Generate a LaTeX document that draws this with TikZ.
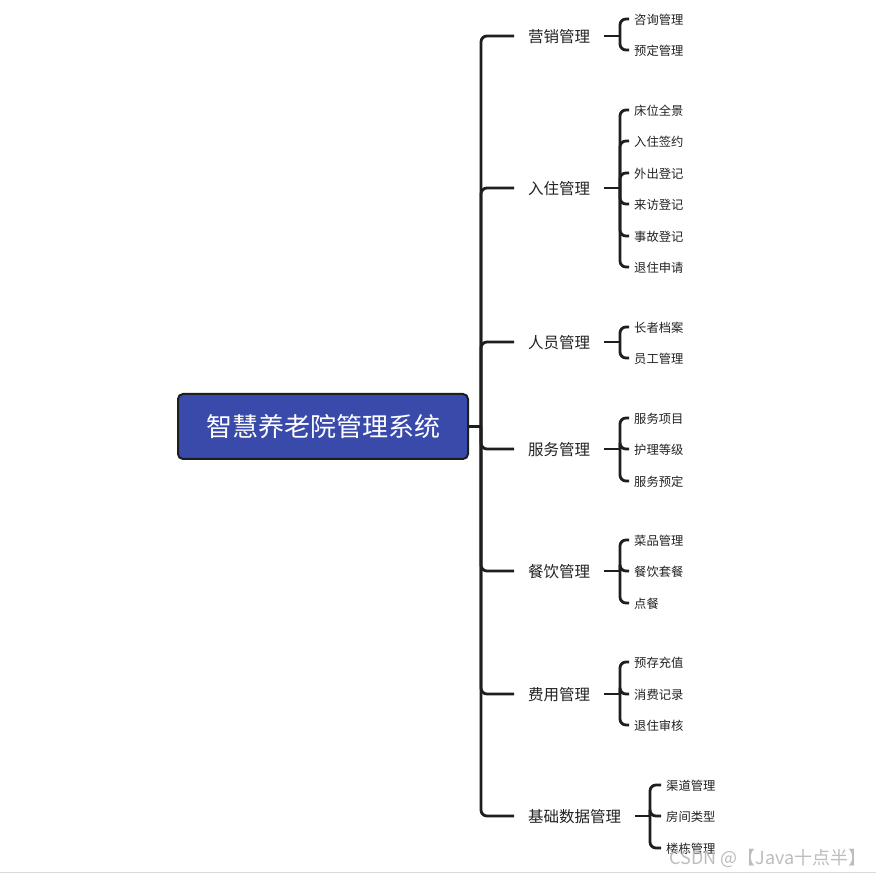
\documentclass[tikz,border=0pt]{standalone}
\usepackage{fontspec}
\setmainfont{Noto Sans CJK SC}
\definecolor{rootblue}{HTML}{3A4AAB}
\definecolor{lineclr}{HTML}{1E1E1E}
\definecolor{txtclr}{HTML}{222222}
\definecolor{wmclr}{HTML}{BDBDBD}
\begin{document}
\begin{tikzpicture}[x=1pt,y=-1pt,
  conn/.style={draw=lineclr,line width=2.8pt,rounded corners=6pt},
  rootbox/.style={draw=lineclr,line width=2pt,fill=rootblue,rounded corners=5pt,minimum width=290pt,minimum height=65pt,inner sep=0pt,text=white,font=\fontsize{26}{30}\selectfont},
  branch/.style={anchor=west,inner sep=0pt,text=txtclr,font=\fontsize{15.5}{18}\selectfont},
  leaf/.style={anchor=west,inner sep=0pt,text=txtclr,font=\fontsize{12.3}{14}\selectfont}]
\useasboundingbox (0,0) rectangle (876,874);
\fill[white] (0,0) rectangle (876,874);
\draw[black!15,line width=1pt] (0,872.5) -- (876,872.5);

\node[rootbox] (root) at (323,426.5) {智慧养老院管理系统};
\coordinate (t0) at (481,426.5);
\draw[conn] (root.east) -- (t0);

% branches
\node[branch] (b1) at (528,37) {营销管理};
\node[branch] (b2) at (528,189) {入住管理};
\node[branch] (b3) at (528,343) {人员管理};
\node[branch] (b4) at (528,450) {服务管理};
\node[branch] (b5) at (528,572) {餐饮管理};
\node[branch] (b6) at (528,695) {费用管理};
\node[branch] (b7) at (528,817) {基础数据管理};

\foreach \b in {b1,b2,b3,b4,b5,b6,b7}{
  \draw[conn] (t0) |- ([xshift=-14pt,yshift=1pt]\b.west);
}

% junction coordinates
\coordinate (j1) at (620,36);
\coordinate (j2) at (620,188);
\coordinate (j3) at (620,342);
\coordinate (j4) at (620,449);
\coordinate (j5) at (620,571);
\coordinate (j6) at (620,694);
\coordinate (j7) at (650,816);

\draw[conn] ([xshift=14pt,yshift=1pt]b1.east) -- (j1);
\draw[conn] ([xshift=14pt,yshift=1pt]b2.east) -- (j2);
\draw[conn] ([xshift=14pt,yshift=1pt]b3.east) -- (j3);
\draw[conn] ([xshift=14pt,yshift=1pt]b4.east) -- (j4);
\draw[conn] ([xshift=14pt,yshift=1pt]b5.east) -- (j5);
\draw[conn] ([xshift=14pt,yshift=1pt]b6.east) -- (j6);
\draw[conn] ([xshift=14pt,yshift=1pt]b7.east) -- (j7);

% leaves
\node[leaf] (l11) at (634,20) {咨询管理};
\node[leaf] (l12) at (634,51) {预定管理};

\node[leaf] (l21) at (634,111) {床位全景};
\node[leaf] (l22) at (634,142) {入住签约};
\node[leaf] (l23) at (634,174) {外出登记};
\node[leaf] (l24) at (634,205) {来访登记};
\node[leaf] (l25) at (634,237) {事故登记};
\node[leaf] (l26) at (634,268) {退住申请};

\node[leaf] (l31) at (634,328) {长者档案};
\node[leaf] (l32) at (634,359) {员工管理};

\node[leaf] (l41) at (634,419) {服务项目};
\node[leaf] (l42) at (634,450) {护理等级};
\node[leaf] (l43) at (634,482) {服务预定};

\node[leaf] (l51) at (634,541) {菜品管理};
\node[leaf] (l52) at (634,572) {餐饮套餐};
\node[leaf] (l53) at (634,604) {点餐};

\node[leaf] (l61) at (634,663) {预存充值};
\node[leaf] (l62) at (634,695) {消费记录};
\node[leaf] (l63) at (634,726) {退住审核};

\node[leaf] (l71) at (666,786) {渠道管理};
\node[leaf] (l72) at (666,817) {房间类型};
\node[leaf] (l73) at (666,849) {楼栋管理};

\foreach \l in {l11,l12}{\draw[conn] (j1) |- ([xshift=-5pt,yshift=1pt]\l.west);}
\foreach \l in {l21,l22,l23,l24,l25,l26}{\draw[conn] (j2) |- ([xshift=-5pt,yshift=1pt]\l.west);}
\foreach \l in {l31,l32}{\draw[conn] (j3) |- ([xshift=-5pt,yshift=1pt]\l.west);}
\foreach \l in {l41,l42,l43}{\draw[conn] (j4) |- ([xshift=-5pt,yshift=1pt]\l.west);}
\foreach \l in {l51,l52,l53}{\draw[conn] (j5) |- ([xshift=-5pt,yshift=1pt]\l.west);}
\foreach \l in {l61,l62,l63}{\draw[conn] (j6) |- ([xshift=-5pt,yshift=1pt]\l.west);}
\foreach \l in {l71,l72,l73}{\draw[conn] (j7) |- ([xshift=-5pt,yshift=1pt]\l.west);}

\node[anchor=east,inner sep=0pt,text=wmclr,font=\fontsize{18}{20}\selectfont] (wm) at (867,858) {CSDN @【Java十点半】};
\end{tikzpicture}
\end{document}
